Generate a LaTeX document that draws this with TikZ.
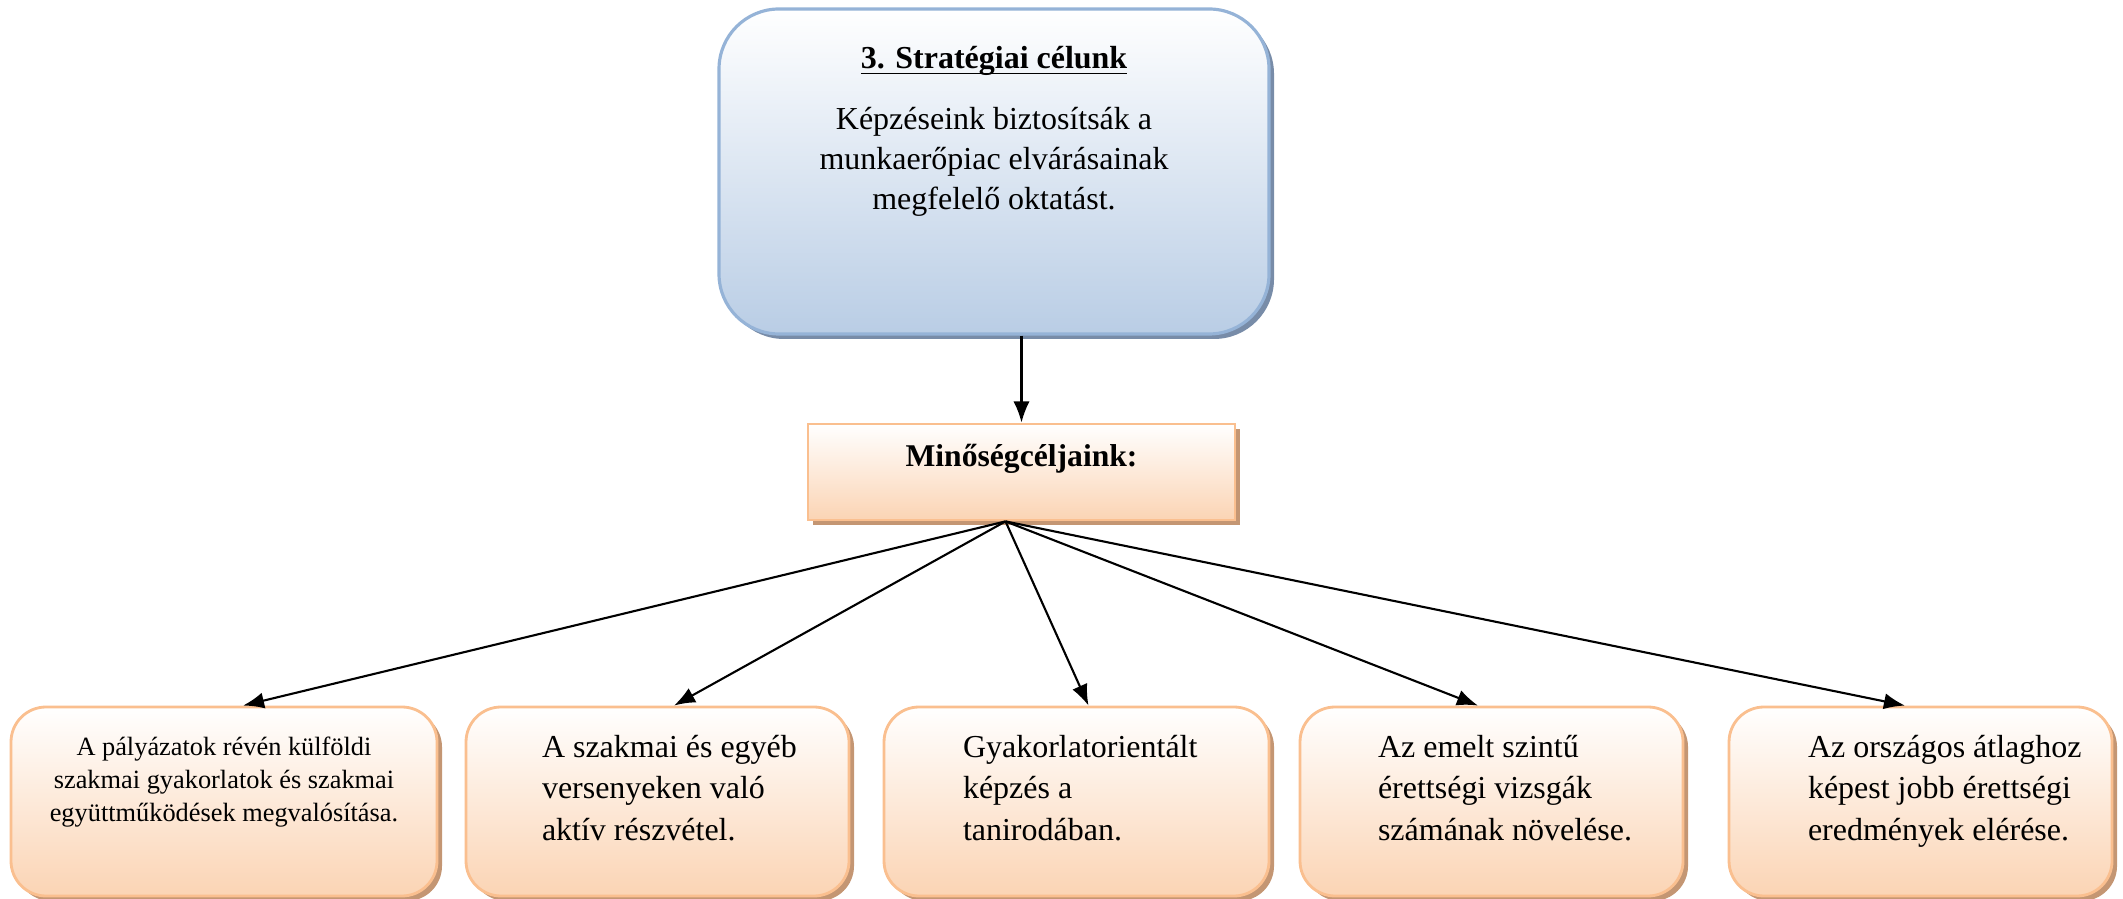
\documentclass[tikz,border=0pt]{standalone}
\usepackage{fontspec}
\setmainfont{Liberation Serif}
\usetikzlibrary{positioning,shadows,arrows.meta}

\definecolor{stratblue}{RGB}{185,205,229}
\definecolor{stratline}{RGB}{149,179,215}
\definecolor{stratshadow}{RGB}{120,140,168}
\definecolor{peach}{RGB}{251,212,180}
\definecolor{peachline}{RGB}{250,191,143}
\definecolor{peachshadow}{RGB}{196,150,115}

\begin{document}
\begin{tikzpicture}[>={Latex[length=6pt,width=4.6pt]},
  stratbox/.style={draw=stratline, line width=0.9pt, rounded corners=0.6cm,
    top color=white, bottom color=stratblue, inner xsep=0pt, inner ysep=0.32cm,
    drop shadow={shadow xshift=0.05cm, shadow yshift=-0.05cm, fill=stratshadow, opacity=1}},
  minbox/.style={draw=peachline, line width=0.8pt, top color=white, bottom color=peach,
    minimum width=4.27cm, inner ysep=0.1cm, text height=0.33cm, text depth=0.43cm,
    font=\fontsize{9}{11}\selectfont\bfseries,
    drop shadow={shadow xshift=0.05cm, shadow yshift=-0.05cm, fill=peachshadow, opacity=1}},
  celbox/.style={draw=peachline, line width=0.8pt, rounded corners=0.35cm,
    top color=white, bottom color=peach, inner xsep=0pt, inner ysep=0.22cm,
    drop shadow={shadow xshift=0.05cm, shadow yshift=-0.05cm, fill=peachshadow, opacity=1}}]

\useasboundingbox (0,0) rectangle (21.23,-8.99);

\node[stratbox] (strat) at (9.94,-1.715) {\parbox[t][2.61cm][t]{5.5cm}{\centering
  \fontsize{9.1}{11.3}\selectfont\strut\textbf{\underline{\raisebox{0pt}[\height][0pt]{3. Stratégiai célunk}}}\\[6pt]
  Képzéseink biztosítsák a\\ munkaerőpiac elvárásainak\\ megfelelő oktatást.}};

\node[minbox] (minoseg) at (10.215,-4.72) {Minőségcéljaink:};

\node[celbox, inner ysep=0.26cm] (cel1) at (2.24,-8.015) {\parbox[t][1.37cm][t]{4.26cm}{\centering
  \fontsize{7.5}{9.3}\selectfont\strut A pályázatok révén külföldi\\ szakmai gyakorlatok és szakmai\\ együttműködések megvalósítása.}};
\node[celbox] (cel2) at (6.575,-8.015) {\parbox[t][1.45cm][t]{3.83cm}{\leftskip=0.76cm
  \fontsize{9.1}{11.7}\selectfont\strut A szakmai és egyéb\\ versenyeken való\\ aktív részvétel.}};
\node[celbox] (cel3) at (10.765,-8.015) {\parbox[t][1.45cm][t]{3.85cm}{\leftskip=0.79cm
  \fontsize{9.1}{11.7}\selectfont\strut Gyakorlatorientált\\ képzés a\\ tanirodában.}};
\node[celbox] (cel4) at (14.915,-8.015) {\parbox[t][1.45cm][t]{3.83cm}{\leftskip=0.78cm
  \fontsize{9.1}{11.7}\selectfont\strut Az emelt szintű\\ érettségi vizsgák\\ számának növelése.}};
\node[celbox] (cel5) at (19.205,-8.015) {\parbox[t][1.45cm][t]{3.83cm}{\leftskip=0.79cm
  \fontsize{9.1}{11.7}\selectfont\strut Az országos átlaghoz\\ képest jobb érettségi\\ eredmények elérése.}};

\draw[->, line width=0.6pt] (strat.south -| minoseg.north) -- (minoseg.north);
\foreach \n/\dx in {1/0.19,2/0.165,3/0.12,4/-0.135,5/-0.155} {\draw[->, line width=0.6pt] ([xshift=-0.16cm]minoseg.south) -- ([xshift=\dx cm]cel\n.north);}

\end{tikzpicture}
\end{document}
